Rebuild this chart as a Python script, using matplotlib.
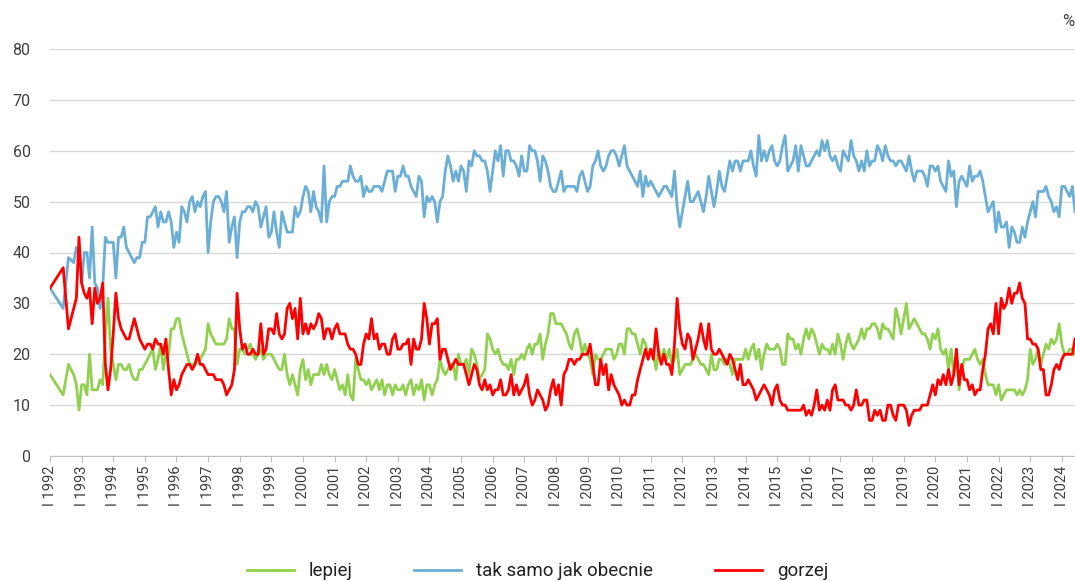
import matplotlib
matplotlib.use("Agg")
import matplotlib.pyplot as plt

plt.rcParams["font.family"] = ["Roboto", "DejaVu Sans"]

# survey months: 1992 irregular, then monthly until June 2024
months_1992 = [1, 6, 8, 10, 11, 12]
last_year, last_month = 2024, 6

lepiej = [
    16, 12, 18, 16, 14, 9,
    14, 14, 12, 20, 13, 13, 13, 15, 14, 24, 31, 21,
    18, 15, 18, 18, 17, 17, 18, 16, 15, 15, 17, 17,
    18, 19, 20, 21, 17, 19, 22, 17, 20, 20, 25, 25,
    27, 27, 24, 22, 20, 18, 18, 18, 19, 19, 20, 21,
    26, 24, 23, 22, 22, 22, 22, 23, 27, 25, 25, 18,
    21, 21, 20, 21, 22, 20, 19, 20, 21, 19, 20, 20,
    20, 19, 18, 17, 17, 20, 16, 14, 16, 14, 12, 17,
    19, 15, 17, 14, 16, 16, 16, 18, 16, 18, 16, 15,
    17, 15, 13, 14, 12, 16, 12, 11, 19, 17, 15, 15,
    14, 15, 13, 14, 15, 13, 15, 12, 14, 14, 12, 14,
    13, 13, 14, 12, 14, 15, 12, 14, 13, 15, 11, 14,
    14, 12, 14, 15, 19, 17, 16, 17, 18, 18, 15, 20,
    18, 18, 19, 16, 21, 20, 18, 15, 16, 17, 24, 23,
    21, 20, 21, 19, 18, 18, 17, 19, 16, 19, 19, 20,
    19, 21, 22, 20, 22, 22, 24, 19, 22, 24, 28, 28,
    26, 26, 26, 25, 24, 22, 21, 24, 25, 23, 20, 22,
    20, 19, 16, 20, 19, 19, 20, 21, 21, 21, 19, 20,
    22, 22, 20, 25, 25, 24, 24, 22, 20, 23, 22, 20,
    21, 20, 17, 21, 19, 21, 19, 21, 18, 19, 21, 16,
    17, 18, 18, 18, 19, 20, 19, 18, 18, 17, 16, 20,
    17, 17, 19, 19, 18, 19, 18, 16, 19, 19, 19, 19,
    21, 19, 21, 22, 19, 21, 17, 20, 22, 21, 21, 21,
    22, 21, 18, 18, 24, 23, 23, 21, 22, 20, 23, 25,
    23, 25, 24, 22, 20, 22, 21, 21, 20, 22, 20, 24,
    22, 19, 22, 24, 22, 21, 22, 23, 25, 23, 25, 25,
    26, 26, 25, 23, 26, 25, 25, 24, 23, 29, 27, 24,
    27, 30, 25, 26, 27, 26, 25, 24, 24, 23, 21, 24,
    23, 25, 21, 20, 21, 17, 21, 16, 20, 13, 17, 19,
    19, 19, 20, 21, 19, 18, 19, 16, 14, 14, 14, 12,
    14, 11, 12, 13, 13, 13, 13, 12, 13, 12, 13, 15,
    21, 18, 19, 21, 18, 20, 22, 21, 23, 22, 23, 26,
    22, 20, 20, 21, 21, 20,
]

tak_samo = [
    33, 29, 39, 38, 41, 40,
    34, 40, 40, 35, 45, 34, 33, 29, 33, 43, 42, 42,
    42, 35, 43, 43, 45, 41, 40, 39, 38, 39, 39, 42,
    42, 47, 47, 48, 49, 45, 48, 46, 46, 48, 46, 41,
    44, 42, 49, 48, 46, 50, 51, 48, 50, 49, 51, 52,
    40, 46, 50, 51, 51, 50, 48, 52, 42, 45, 47, 39,
    46, 48, 48, 49, 49, 48, 50, 49, 45, 47, 49, 43,
    44, 48, 44, 41, 48, 46, 44, 44, 44, 49, 47, 48,
    51, 53, 52, 48, 52, 49, 48, 46, 57, 46, 50, 51,
    51, 53, 53, 54, 54, 54, 57, 55, 54, 54, 55, 51,
    53, 52, 52, 53, 53, 53, 52, 54, 56, 56, 56, 52,
    55, 55, 57, 55, 55, 53, 52, 51, 55, 54, 47, 51,
    50, 51, 50, 46, 50, 51, 56, 59, 57, 54, 56, 54,
    57, 56, 52, 58, 57, 60, 59, 59, 58, 58, 56, 52,
    56, 60, 58, 61, 55, 60, 60, 58, 58, 57, 55, 59,
    56, 56, 61, 60, 60, 58, 54, 59, 58, 56, 53, 52,
    52, 54, 56, 52, 53, 53, 53, 53, 52, 55, 56, 54,
    52, 53, 57, 58, 60, 57, 56, 57, 59, 60, 60, 59,
    57, 59, 61, 57, 56, 55, 54, 53, 56, 51, 55, 53,
    54, 53, 52, 51, 52, 53, 53, 52, 51, 56, 49, 45,
    48, 51, 54, 50, 50, 51, 52, 50, 48, 51, 55, 52,
    49, 52, 56, 53, 52, 55, 58, 56, 58, 58, 56, 58,
    58, 58, 60, 57, 55, 63, 58, 60, 58, 60, 61, 58,
    57, 58, 61, 63, 56, 57, 58, 61, 56, 61, 59, 57,
    57, 58, 59, 60, 59, 62, 60, 62, 59, 58, 59, 57,
    56, 60, 59, 58, 62, 59, 58, 56, 58, 56, 60, 57,
    58, 58, 61, 60, 58, 61, 59, 58, 58, 57, 58, 58,
    57, 56, 59, 56, 54, 56, 56, 56, 55, 53, 57, 57,
    56, 57, 54, 53, 52, 58, 55, 56, 49, 54, 55, 54,
    53, 57, 54, 55, 55, 56, 54, 51, 48, 49, 50, 44,
    48, 45, 45, 46, 41, 45, 44, 42, 42, 45, 43, 46,
    48, 50, 47, 52, 52, 52, 53, 51, 50, 48, 49, 47,
    53, 53, 52, 51, 53, 48,
]

gorzej = [
    33, 37, 25, 29, 31, 43,
    34, 32, 31, 33, 26, 33, 30, 31, 34, 18, 13, 17,
    24, 32, 27, 25, 24, 23, 23, 25, 27, 25, 23, 22,
    21, 22, 22, 21, 23, 22, 22, 20, 23, 17, 12, 15,
    13, 14, 16, 17, 18, 18, 17, 18, 20, 18, 18, 17,
    16, 16, 16, 15, 15, 15, 14, 12, 13, 14, 17, 32,
    25, 21, 22, 20, 20, 21, 20, 20, 26, 20, 21, 25,
    25, 24, 28, 24, 23, 24, 29, 30, 27, 29, 23, 31,
    24, 26, 24, 26, 25, 26, 28, 27, 23, 25, 25, 23,
    25, 26, 24, 24, 24, 22, 21, 21, 20, 18, 18, 22,
    24, 23, 27, 23, 24, 21, 22, 22, 20, 20, 23, 24,
    21, 21, 22, 22, 23, 18, 23, 21, 21, 23, 30, 27,
    22, 26, 26, 27, 19, 21, 21, 19, 17, 18, 19, 18,
    18, 18, 16, 14, 16, 18, 17, 14, 13, 15, 13, 14,
    12, 13, 13, 15, 12, 12, 13, 16, 12, 14, 12, 13,
    14, 16, 12, 10, 11, 13, 12, 11, 9, 10, 13, 15,
    12, 14, 10, 16, 17, 19, 19, 18, 19, 19, 20, 20,
    20, 22, 18, 14, 14, 19, 16, 18, 13, 16, 14, 13,
    12, 10, 11, 10, 10, 12, 12, 15, 17, 19, 21, 19,
    21, 19, 25, 20, 18, 20, 18, 18, 16, 22, 31, 25,
    22, 21, 24, 23, 19, 21, 23, 26, 23, 21, 26, 21,
    20, 20, 21, 20, 19, 18, 20, 19, 17, 15, 18, 14,
    14, 15, 14, 13, 11, 12, 13, 14, 13, 12, 10, 13,
    14, 11, 10, 10, 9, 9, 9, 9, 9, 9, 10, 8,
    9, 8, 10, 13, 9, 10, 9, 11, 9, 13, 14, 11,
    11, 11, 10, 10, 9, 10, 13, 10, 10, 11, 11, 7,
    7, 9, 8, 9, 7, 7, 10, 10, 8, 7, 10, 10,
    10, 9, 6, 8, 9, 9, 9, 10, 10, 10, 12, 14,
    12, 15, 14, 16, 14, 17, 14, 16, 21, 14, 18, 15,
    15, 13, 14, 12, 13, 13, 17, 20, 25, 26, 24, 30,
    24, 31, 29, 30, 33, 30, 32, 32, 34, 31, 30, 23,
    23, 22, 22, 21, 17, 17, 12, 12, 14, 17, 18, 17,
    19, 20, 20, 20, 20, 23,
]

years = list(range(1992, last_year + 1))
tick_labels = ["I " + str(y) for y in years]

# x positions as fractional years
x = [1992 + (m - 1) / 12 for m in months_1992]
for y in range(1993, last_year + 1):
    n = last_month if y == last_year else 12
    x += [y + (m - 1) / 12 for m in range(1, n + 1)]

fig = plt.figure(figsize=(10.75, 5.81), dpi=100)
ax = fig.add_axes([50 / 1075, 1 - 456 / 581, 1025 / 1075, 407 / 581])

ax.plot(x, lepiej, color="#92D050", lw=2, label="lepiej", zorder=3)
ax.plot(x, tak_samo, color="#6BAED6", lw=2, label="tak samo jak obecnie", zorder=3)
ax.plot(x, gorzej, color="#FF0000", lw=2, label="gorzej", zorder=4)

ax.set_xlim(x[0], x[-1])
ax.set_ylim(0, 80)
ax.set_yticks(range(0, 81, 10))
ax.set_xticks(years)
ax.set_xticklabels(tick_labels, rotation=90, fontsize=10.5, color="#404040")
ax.tick_params(axis="y", length=0, labelsize=11.5, labelcolor="#404040", pad=14)
ax.tick_params(axis="x", length=4, color="#bfbfbf", pad=3)

ax.grid(axis="y", color="#d9d9d9", lw=1)
ax.set_axisbelow(True)
for s in ["top", "right", "left"]:
    ax.spines[s].set_visible(False)
ax.spines["bottom"].set_color("#bfbfbf")

fig.text(1068 / 1075, 1 - 22 / 581, "%", fontsize=12, color="#404040",
         ha="center", va="center")

fig.legend(loc="lower center", bbox_to_anchor=(0.5, -0.028), ncol=3,
           frameon=False, fontsize=13.5, handlelength=2.5, columnspacing=3.3,
           labelcolor="#222222")

fig.savefig("out.png", dpi=100)
